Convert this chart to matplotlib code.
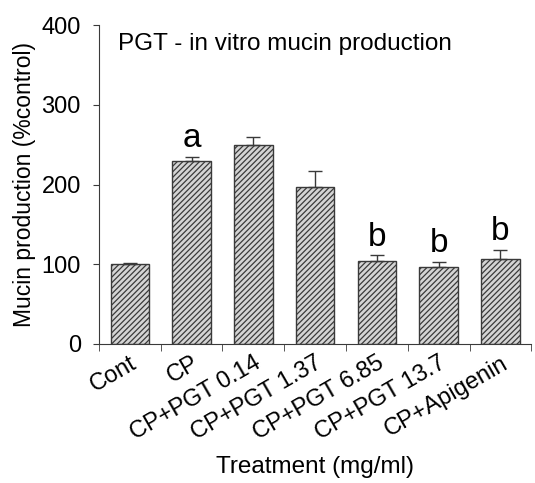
import numpy as np
import matplotlib
matplotlib.use('Agg')
import matplotlib.pyplot as plt

plt.rcParams['font.family'] = ['Liberation Sans', 'DejaVu Sans']
plt.rcParams['hatch.linewidth'] = 0.9
plt.rcParams['hatch.color'] = '#3a3a3a'

# data
treatments = ['Cont', 'CP', 'CP+PGT 0.14', 'CP+PGT 1.37', 'CP+PGT 6.85',
              'CP+PGT 13.7', 'CP+Apigenin']
mucin = [100, 230, 250, 197, 104, 96, 106]
sem = [2, 5, 9, 20, 7, 7, 12]
letters = ['', 'a', '', '', 'b', 'b', 'b']

fig = plt.figure(figsize=(5.35, 4.83), dpi=100)
ax = fig.add_axes([0.185, 0.288, 0.808, 0.66])

x = np.arange(len(treatments)) + 0.5
ax.bar(x, mucin, width=0.62, color='#d4d4d4', edgecolor='#3a3a3a',
       linewidth=1.0, hatch='//////', zorder=2)
ax.errorbar(x, mucin, yerr=[np.zeros(len(sem)), sem], fmt='none',
            ecolor='#3a3a3a', elinewidth=1.0, capsize=5, capthick=1.0, zorder=3)

# significance letters
for xi, m, e, t in zip(x, mucin, sem, letters):
    if t:
        ax.annotate(t, (xi, m + e), xytext=(0, 2), textcoords='offset points',
                    ha='center', va='bottom', fontsize=24)

ax.set_xlim(0, len(treatments))
ax.set_ylim(0, 400)
ax.set_yticks([0, 100, 200, 300, 400])
ax.set_xticks(x)
ax.set_xticklabels(treatments, rotation=30, ha='right', rotation_mode='anchor',
                   fontsize=17)
ax.set_xticks(np.arange(len(treatments) + 1), minor=True)
ax.tick_params(axis='x', which='major', length=0, pad=6)
ax.tick_params(axis='x', which='minor', length=5, direction='out', color='#3a3a3a')
ax.tick_params(axis='y', length=4, direction='out', labelsize=17, color='#3a3a3a', pad=9)

for s in ['top', 'right']:
    ax.spines[s].set_visible(False)
for s in ['left', 'bottom']:
    ax.spines[s].set_color('#3a3a3a')

ax.set_ylabel('Mucin production (%control)', fontsize=16.5, labelpad=4)
ax.set_xlabel('Treatment (mg/ml)', fontsize=17.5, labelpad=8)
ax.text(0.045, 0.975, 'PGT - in vitro mucin production', transform=ax.transAxes,
        fontsize=17.5, va='top', ha='left')

fig.savefig('out.png', dpi=100)
